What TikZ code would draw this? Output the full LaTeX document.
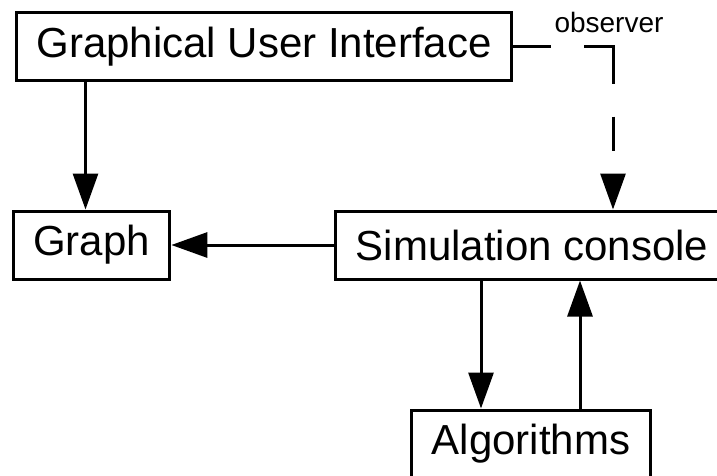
\documentclass[tikz,border=0pt]{standalone}
\usepackage{fontspec}
\setmainfont{Liberation Sans}
\usetikzlibrary{arrows.meta}
\tikzset{
  box/.style={draw, line width=3pt, inner xsep=20pt, minimum height=68pt,
    font=\fontsize{42}{48}\selectfont},
  flow/.style={line width=3pt, -{Triangle[length=36pt,width=25pt]}}
}
\begin{document}
\begin{tikzpicture}[x=1pt, y=-1pt]
    \useasboundingbox (0,0) rectangle (717,475);
    \clip (0,0) rectangle (717,475);
    \node [box] (gui) at (264,46.5) {Graphical User Interface};
    \node [box] (graph) at (91.5,245) {Graph};
    \node [box] (sim) at (532,245) {Simulation console};
    \node [box] (alg) at (531,444) {Algorithms};
    \draw [flow] ([xshift=-6pt]gui.south -| graph.north) -- ([xshift=-6pt]graph.north);
    \draw [flow] (sim.west) -- (graph.east);
    \draw [flow] ([xshift=-50pt]alg.north |- sim.south) -- ([xshift=-50pt]alg.north);
    \draw [flow] ([xshift=49pt]alg.north) -- ([xshift=49pt]alg.north |- sim.south);
    \draw [flow, dash pattern=on 38pt off 33pt on 66pt off 33pt on 34pt off 100pt]
      (gui.east) -| ([xshift=81pt]sim.north);
    \node [font=\fontsize{28}{30}\selectfont] (obs) at (609,22) {observer};
\end{tikzpicture}
\end{document}
